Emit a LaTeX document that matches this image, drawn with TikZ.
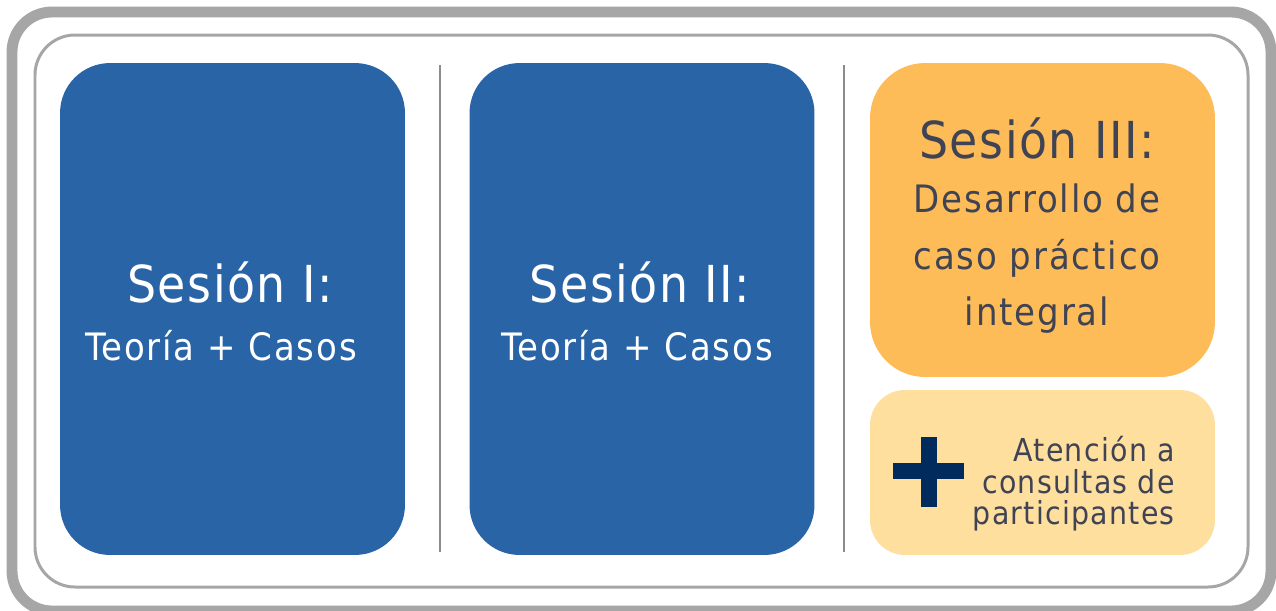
\documentclass[tikz,border=0pt]{standalone}
\usepackage{fontspec}
\setmainfont{DejaVu Sans Condensed}
\usepackage{xcolor}
\usepackage{tikz}
\usetikzlibrary{calc}
\definecolor{frgray}{RGB}{166, 166, 166}
\definecolor{sepgray}{RGB}{140, 140, 140}
\definecolor{sesblue}{RGB}{41, 100, 166}
\definecolor{sesorange}{RGB}{253, 188, 87}
\definecolor{seslight}{RGB}{254, 223, 158}
\definecolor{plusnavy}{RGB}{0, 43, 92}
\definecolor{txtdark}{RGB}{63, 67, 84}

\begin{document}
\begin{tikzpicture}[x=0.02cm, y=-0.02cm,
    sesbox/.style={minimum width=6.9cm, inner sep=0pt, outer sep=0pt},
    sestitle/.style={font=\fontsize{29}{33}\selectfont\addfontfeature{LetterSpace=3}},
    sestext/.style={font=\fontsize{21.5}{32}\selectfont\addfontfeature{LetterSpace=5}, align=center}]
\useasboundingbox (0,0) rectangle (1276,610);
\clip (0,0) rectangle (1276,610);
\fill[white] (0,0) rectangle (1276,610);

% Frames
\draw[frgray, line width=6.2pt, rounded corners=0.8cm] (12,12) rectangle (1271,611);
\draw[frgray, line width=1.7pt, rounded corners=0.8cm] (35,35) rectangle (1248,587);

% Separators
\draw[sepgray, line width=1.1pt] (440,65) -- (440,552);
\draw[sepgray, line width=1.1pt] (844,65) -- (844,552);

% Session I
\node[sesbox, fill=sesblue, minimum height=9.84cm, rounded corners=1cm] (s1) at (232.5,309) {};
\node[sestitle, white] (s1t) at (230,282) {Sesión I:};
\node[sestext, white] (s1c) at (221,346) {Teoría + Casos};

% Session II
\node[sesbox, fill=sesblue, minimum height=9.84cm, rounded corners=1cm] (s2) at (642,309) {};
\node[sestitle, white] (s2t) at (640,282) {Sesión II:};
\node[sestext, white] (s2c) at (637,346) {Teoría + Casos};

% Session III
\node[sesbox, fill=sesorange, minimum height=6.28cm, rounded corners=1.1cm] (s3) at (1042.5,220) {};
\node[sestitle, txtdark] (s3t) at (1037,138) {Sesión III:};
\node[sestext, txtdark, anchor=north] (s3c) at (1037,178) {Desarrollo de\\caso práctico\\integral};

% Consultas
\node[sesbox, fill=seslight, minimum height=3.3cm, rounded corners=0.7cm] (s4) at (1042.5,472.5) {};
\fill[plusnavy] (893,463) rectangle (964,479);
\fill[plusnavy] (921,437) rectangle (937,507);
\node[txtdark, font=\fontsize{18}{18}\selectfont\addfontfeature{LetterSpace=4}, align=right, anchor=east] (s4c) at (1181,484)
    {Atención a\\consultas de\\participantes};
\end{tikzpicture}
\end{document}
